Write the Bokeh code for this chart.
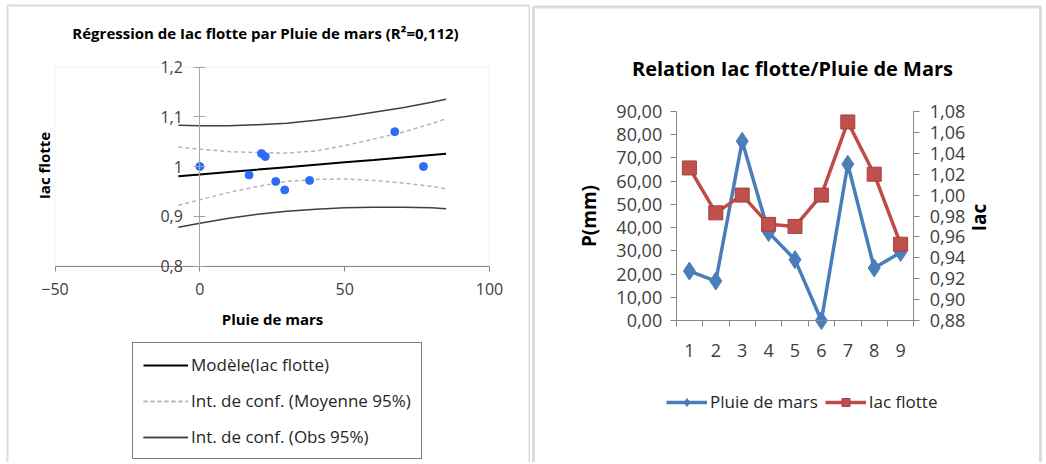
import math
from bokeh.plotting import figure
from bokeh.layouts import row
from bokeh.models import (Range1d, LinearAxis, FixedTicker, CustomJSTickFormatter,
                          Legend, LegendItem, Label, BoxAnnotation)
from bokeh.embed import file_html
from bokeh.resources import INLINE

# ---------------- data ----------------
mois = ["1", "2", "3", "4", "5", "6", "7", "8", "9"]
pluie = [21.3, 17.0, 77.2, 37.9, 26.2, 0.0, 67.3, 22.6, 29.3]
iac = [1.026, 0.983, 1.000, 0.972, 0.970, 1.000, 1.070, 1.020, 0.953]

band_x = [-7.4, 0, 10, 20, 30, 40, 50, 60, 70, 80, 85]
model_y = [0.9805, 0.9841, 0.9890, 0.9938, 0.9987, 1.0036, 1.0085, 1.0133, 1.0182, 1.0231, 1.0255]
mean_hi = [1.039, 1.035, 1.030, 1.028, 1.027, 1.031, 1.042, 1.055, 1.069, 1.086, 1.096]
mean_lo = [0.922, 0.933, 0.948, 0.960, 0.970, 0.974, 0.975, 0.972, 0.967, 0.960, 0.955]
obs_hi = [1.083, 1.082, 1.082, 1.084, 1.087, 1.093, 1.100, 1.109, 1.118, 1.129, 1.135]
obs_lo = [0.878, 0.886, 0.896, 0.904, 0.910, 0.914, 0.917, 0.918, 0.918, 0.917, 0.915]

left_xticks = [-50, 0, 50, 100]
left_yticks = [0.8, 0.9, 1.0, 1.1, 1.2]
p_ticks = [0, 10, 20, 30, 40, 50, 60, 70, 80, 90]
iac_ticks = [0.88, 0.90, 0.92, 0.94, 0.96, 0.98, 1.00, 1.02, 1.04, 1.06, 1.08]

left_title = "Régression de Iac flotte par Pluie de mars (R²=0,112)"
right_title = "Relation Iac flotte/Pluie de Mars"
left_xlabel = "Pluie de mars"
left_ylabel = "Iac flotte"
right_ylabel = "P(mm)"
right_y2label = "Iac"
legend_left = ["Modèle(Iac flotte)", "Int. de conf. (Moyenne 95%)", "Int. de conf. (Obs 95%)"]
legend_right = ["Pluie de mars", "Iac flotte"]

# ---------------- layout constants (pixels) ----------------
FONT = "Open Sans"
TICK_COLOR = "#404040"
AXIS_COLOR = "#868686"
BORDER = "#8c8c8c"
H = 462
LW = 530
RW = 514


def lin(d0, d1, p0, p1, p):
    return d0 + (p - p0) * (d1 - d0) / (p1 - p0)


# left plot area: x -50..100 -> px 54.5..489 ; y 0.8..1.2 -> px 265.5..66.5
L_x = (lin(-50, 100, 54.5, 489, 0), lin(-50, 100, 54.5, 489, LW))
L_y = (lin(0.8, 1.2, 265.5, 66.5, H), lin(0.8, 1.2, 265.5, 66.5, 0))
# right plot area (canvas starts at px LW): x 0.5..9.5 -> 675.7..913.3 ; y 0..90 -> 320..111
R_x = (lin(0.5, 9.5, 675.7, 913.3, LW), lin(0.5, 9.5, 675.7, 913.3, LW + RW))
R_y = (lin(0, 90, 320, 111, H), lin(0, 90, 320, 111, 0))
R_y2 = (lin(0.88, 1.08, 320, 111, H), lin(0.88, 1.08, 320, 111, 0))

# ---------------- left chart ----------------
L = figure(width=LW, height=H, x_range=Range1d(*L_x), y_range=Range1d(*L_y),
           output_backend="svg", toolbar_location=None, title_location=None, min_border=0)
L.background_fill_color = "white"
L.border_fill_color = "white"
L.outline_line_color = None
L.xgrid.grid_line_color = None
L.ygrid.grid_line_color = None

# plot-area box
L.add_layout(BoxAnnotation(left=-50, right=100, bottom=0.8, top=1.2, fill_alpha=0,
                           line_color="#d4d4d4", line_width=1, level="underlay"))
# chart border
L.add_layout(BoxAnnotation(left=7, right=529, bottom=-20, top=H - 5,
                           left_units="screen", right_units="screen",
                           bottom_units="screen", top_units="screen",
                           fill_alpha=0, line_color=BORDER, line_width=2))

xa = L.xaxis[0]
xa.fixed_location = 0.8
xa.bounds = (-50, 100)
xa.ticker = FixedTicker(ticks=left_xticks)
xa.axis_line_color = AXIS_COLOR
xa.major_tick_line_color = AXIS_COLOR
xa.major_tick_in = 0
xa.major_tick_out = 5
xa.minor_tick_line_color = None
xa.major_label_text_font = FONT
xa.major_label_text_font_size = "16px"
xa.major_label_text_color = TICK_COLOR
xa.major_label_standoff = 12
xa.axis_label = left_xlabel
xa.axis_label_text_font = FONT
xa.axis_label_text_font_size = "15px"
xa.axis_label_text_font_style = "bold"
xa.axis_label_text_color = "black"
xa.axis_label_standoff = 10

ya = L.yaxis[0]
ya.fixed_location = 0
ya.bounds = (0.8, 1.2)
ya.ticker = FixedTicker(ticks=left_yticks)
ya.formatter = CustomJSTickFormatter(code="return String(Math.round(tick*10)/10).replace('.', ',')")
ya.axis_line_color = "#a6a6a6"
ya.major_tick_line_color = "#a6a6a6"
ya.major_tick_in = 6
ya.major_tick_out = 6
ya.minor_tick_line_color = None
ya.major_label_text_font = FONT
ya.major_label_text_font_size = "16px"
ya.major_label_text_color = TICK_COLOR
ya.major_label_standoff = 11

L.add_layout(Label(x=265, y=H - 32, x_units="screen", y_units="screen", text=left_title,
                   text_font=FONT, text_font_size="15px", text_font_style="bold",
                   text_color="black", text_align="center", text_baseline="middle"))
L.add_layout(Label(x=43, y=H - 165, x_units="screen", y_units="screen", text=left_ylabel,
                   angle=math.pi / 2, text_font=FONT, text_font_size="15px",
                   text_font_style="bold", text_color="black",
                   text_align="center", text_baseline="middle"))

r_obs_hi = L.line(band_x, obs_hi, line_color="#404040", line_width=1.5)
r_obs_lo = L.line(band_x, obs_lo, line_color="#404040", line_width=1.5)
r_mean_hi = L.line(band_x, mean_hi, line_color="#b4b4b4", line_width=1.5, line_dash="4 3")
r_mean_lo = L.line(band_x, mean_lo, line_color="#b4b4b4", line_width=1.5, line_dash="4 3")
r_model = L.line(band_x, model_y, line_color="black", line_width=2)
L.scatter(pluie, iac, size=8, fill_color="#2d6df6", line_color="#2d6df6")

leg_l = Legend(items=[LegendItem(label=legend_left[0], renderers=[r_model]),
                      LegendItem(label=legend_left[1], renderers=[r_mean_hi, r_mean_lo]),
                      LegendItem(label=legend_left[2], renderers=[r_obs_hi, r_obs_lo])],
               location=(132, 3), orientation="vertical",
               border_line_color="black", border_line_width=1.2,
               padding=10, spacing=13, glyph_width=45, glyph_height=20, label_height=20,
               label_standoff=3, label_text_font=FONT, label_text_font_size="17px",
               label_text_color="#262626", background_fill_color="white", margin=0)
L.add_layout(leg_l, "center")

# ---------------- right chart ----------------
xs = list(range(1, len(mois) + 1))
R = figure(width=RW, height=H, x_range=Range1d(*R_x), y_range=Range1d(*R_y),
           output_backend="svg", toolbar_location=None, title_location=None, min_border=0)
R.background_fill_color = "white"
R.border_fill_color = "white"
R.outline_line_color = None
R.xgrid.grid_line_color = None
R.ygrid.grid_line_color = None
R.extra_y_ranges = {"iac": Range1d(*R_y2)}

R.add_layout(BoxAnnotation(left=3, right=510, bottom=-20, top=H - 6.5,
                           left_units="screen", right_units="screen",
                           bottom_units="screen", top_units="screen",
                           fill_alpha=0, line_color=BORDER, line_width=3))

bx = R.xaxis[0]
bx.fixed_location = 0
bx.bounds = (0.5, len(mois) + 0.5)
bx.ticker = FixedTicker(ticks=xs, minor_ticks=[x - 0.5 for x in xs] + [xs[-1] + 0.5])
bx.major_label_overrides = {x: m for x, m in zip(xs, mois)}
bx.axis_line_color = AXIS_COLOR
bx.major_tick_line_color = None
bx.major_tick_in = 0
bx.major_tick_out = 0
bx.minor_tick_line_color = AXIS_COLOR
bx.minor_tick_in = 0
bx.minor_tick_out = 6
bx.major_label_text_font = FONT
bx.major_label_text_font_size = "18px"
bx.major_label_text_color = TICK_COLOR
bx.major_label_standoff = 17

ly = R.yaxis[0]
ly.fixed_location = 0.5
ly.bounds = (0, 90)
ly.ticker = FixedTicker(ticks=p_ticks)
ly.formatter = CustomJSTickFormatter(code="return tick.toFixed(2).replace('.', ',')")
ly.axis_line_color = AXIS_COLOR
ly.major_tick_line_color = AXIS_COLOR
ly.major_tick_in = 0
ly.major_tick_out = 6
ly.minor_tick_line_color = None
ly.major_label_text_font = FONT
ly.major_label_text_font_size = "18px"
ly.major_label_text_color = TICK_COLOR
ly.major_label_standoff = 8
ly.axis_label = right_ylabel
ly.axis_label_text_font = FONT
ly.axis_label_text_font_size = "19px"
ly.axis_label_text_font_style = "bold"
ly.axis_label_text_color = "black"
ly.axis_label_standoff = 12

ry = LinearAxis(y_range_name="iac", fixed_location=len(mois) + 0.5, bounds=(0.88, 1.08),
                ticker=FixedTicker(ticks=iac_ticks),
                formatter=CustomJSTickFormatter(code="return tick.toFixed(2).replace('.', ',')"),
                axis_line_color=AXIS_COLOR, major_tick_line_color=AXIS_COLOR,
                major_tick_in=0, major_tick_out=6, minor_tick_line_color=None,
                major_label_text_font=FONT, major_label_text_font_size="18px",
                major_label_text_color=TICK_COLOR, major_label_standoff=10)
R.add_layout(ry, "right")

R.add_layout(Label(x=792 - LW, y=H - 68, x_units="screen", y_units="screen", text=right_title,
                   text_font=FONT, text_font_size="20px", text_font_style="bold",
                   text_color="black", text_align="center", text_baseline="middle"))
R.add_layout(Label(x=978 - LW, y=H - 217, x_units="screen", y_units="screen", text=right_y2label,
                   angle=math.pi / 2, text_font=FONT, text_font_size="19px",
                   text_font_style="bold", text_color="black",
                   text_align="center", text_baseline="middle"))

BLUE = "#4a7ebb"
RED = "#be4b48"
rb_line = R.line(xs, pluie, line_color=BLUE, line_width=3.5)
rb_pts = R.scatter(xs, pluie, marker="diamond", size=18,
                   fill_color=BLUE, line_color=BLUE)
rr_line = R.line(xs, iac, y_range_name="iac", line_color=RED, line_width=3.5)
rr_pts = R.scatter(xs, iac, y_range_name="iac", marker="square", size=14,
                   fill_color="#c0504d", line_color="#a5403d", line_width=1)

leg_r = Legend(items=[LegendItem(label=legend_right[0], renderers=[rb_line, rb_pts]),
                      LegendItem(label=legend_right[1], renderers=[rr_line, rr_pts])],
               location=(666 - LW, H - 413), orientation="horizontal",
               border_line_color=None, background_fill_alpha=0,
               padding=0, spacing=7, glyph_width=41, glyph_height=20, label_height=20,
               label_standoff=3, label_text_font=FONT, label_text_font_size="17px",
               label_text_color="#262626", margin=0)
R.add_layout(leg_r, "center")

layout = row(L, R, spacing=0)
open("out.html", "w").write(file_html(layout, INLINE))
